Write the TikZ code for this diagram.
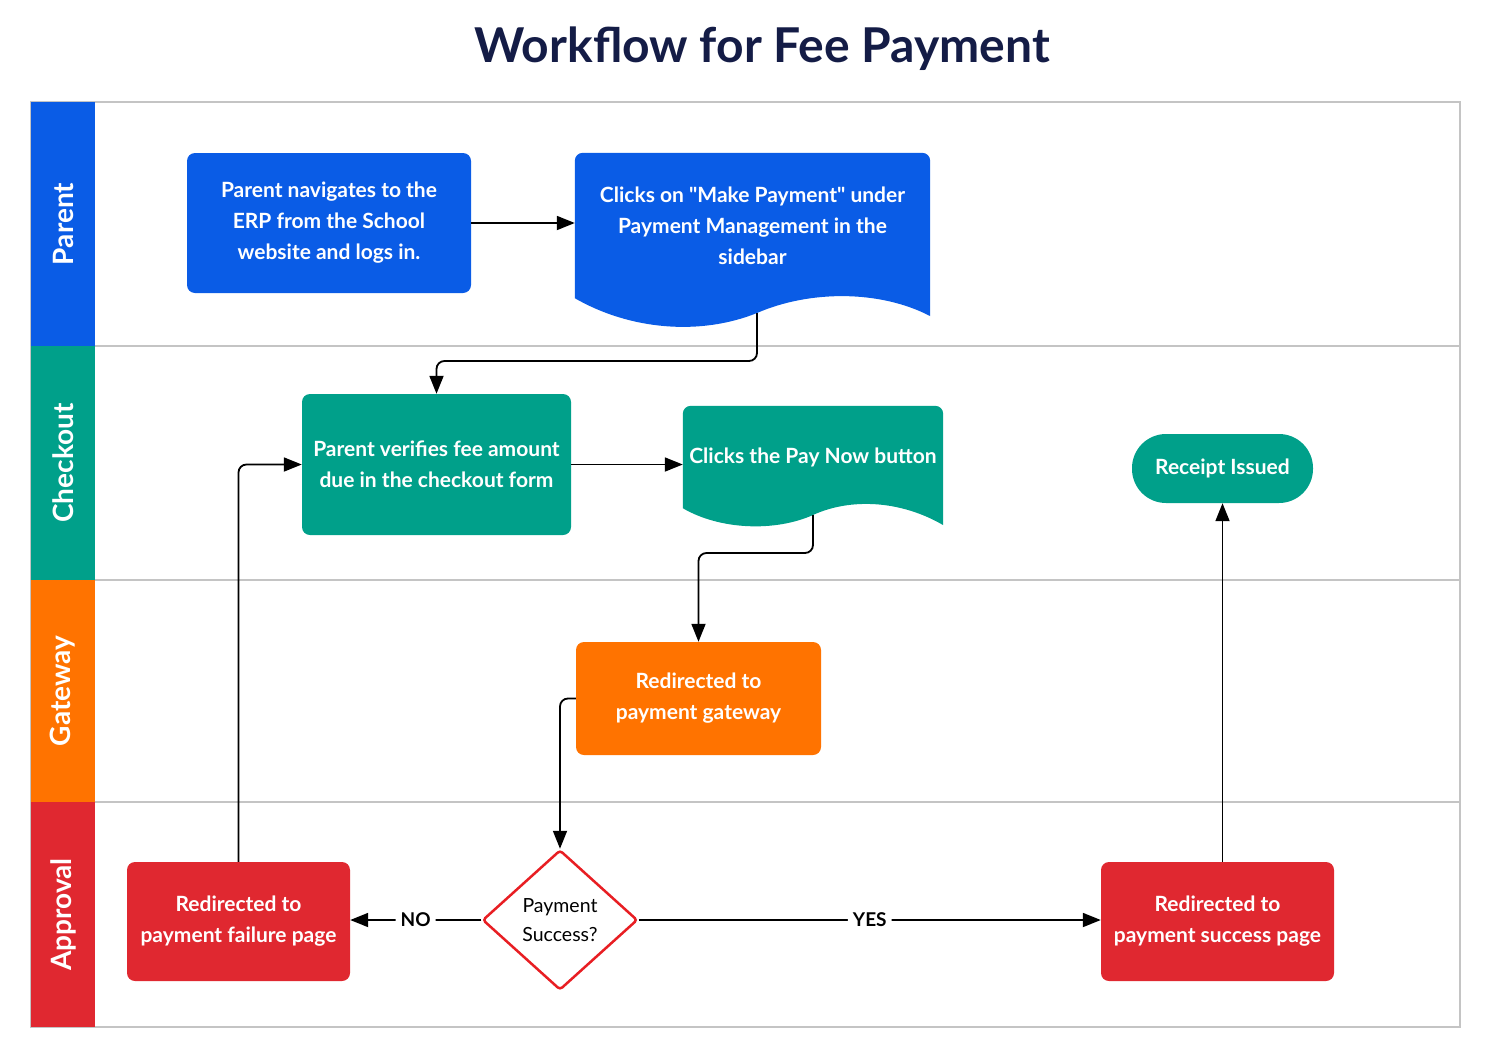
\documentclass[tikz,border=0pt]{standalone}
\usepackage{fontspec}
\setmainfont{Lato}
\usepackage{tikz}
\usetikzlibrary{shapes.geometric,arrows.meta,positioning,calc,backgrounds}
\tikzset{every node/.append style={align=center}}
\definecolor{parentcolor}{RGB}{10, 92, 230}
\definecolor{checkoutcolor}{RGB}{0, 160, 138}
\definecolor{gatewaycolor}{RGB}{255, 115, 0}
\definecolor{approvalcolor}{RGB}{224, 40, 48}
\definecolor{decisionred}{RGB}{232, 30, 35}
\definecolor{titlecolor}{RGB}{20, 28, 70}
\definecolor{lanegray}{RGB}{196, 196, 196}

\begin{document}
\begin{tikzpicture}[
    x=1pt, y=-1pt,
    lanelabel/.style={rotate=90, text=white, font=\fontsize{28}{32}\selectfont\bfseries, minimum height=64pt, inner sep=0pt},
    process/.style={rounded corners=8pt, text=white, font=\fontsize{21}{31}\selectfont\bfseries, inner sep=0pt},
    doctext/.style={text=white, font=\fontsize{21}{31}\selectfont\bfseries, inner sep=0pt},
    decision/.style={diamond, draw=decisionred, line width=2.5pt, fill=white, rounded corners=3pt, minimum width=155pt, minimum height=140pt, aspect=1.1, inner sep=0pt, font=\fontsize{19.5}{29}\selectfont},
    arrow/.style={-{Triangle[length=18pt,width=14pt]}, line width=1.8pt, black, rounded corners=8pt},
    answer/.style={fill=white, font=\fontsize{19}{22}\selectfont\bfseries, inner sep=5pt}
]
    \useasboundingbox (0,0) rectangle (1494,1052);

    % Title
    \node[font=\fontsize{48}{56}\selectfont\bfseries, text=titlecolor] (title) at (762,49) {Workflow for Fee Payment};

    % Lanes
    \draw[lanegray, line width=1.5pt] (31,102) rectangle (1460,1027);
    \draw[lanegray, line width=1.5pt] (31,346) -- (1460,346);
    \draw[lanegray, line width=1.5pt] (31,580) -- (1460,580);
    \draw[lanegray, line width=1.5pt] (31,802) -- (1460,802);
    \node[lanelabel, fill=parentcolor, minimum width=244pt] (lparent) at (63,224) {Parent};
    \node[lanelabel, fill=checkoutcolor, minimum width=234pt] (lcheckout) at (63,463) {Checkout};
    \node[lanelabel, fill=gatewaycolor, minimum width=222pt] (lgateway) at (63,691) {Gateway};
    \node[lanelabel, fill=approvalcolor, minimum width=225pt] (lapproval) at (63,914.5) {Approval};

    % Steps
    \node[process, fill=parentcolor, minimum width=284pt, minimum height=140pt] (login) at (329,223) {Parent navigates to the\\ERP from the School\\website and logs in.};
    \node[doctext, minimum width=355pt, minimum height=145pt] (clicks) at (752.5,225.5) {Clicks on \textquotedbl Make Payment\textquotedbl\ under\\Payment Management in the\\sidebar};
    \node[process, fill=checkoutcolor, minimum width=269pt, minimum height=141pt] (verify) at (436.5,464.5) {Parent verifies fee amount\\due in the checkout form};
    \node[doctext, minimum width=260pt, minimum height=102pt] (paynow) at (813,457) {Clicks the Pay Now button};
    \node[process, fill=checkoutcolor, rounded corners=34pt, minimum width=181pt, minimum height=69pt] (receipt) at (1222.5,468.5) {Receipt Issued};
    \node[process, fill=gatewaycolor, minimum width=245pt, minimum height=113pt] (gateway) at (698.5,698.5) {Redirected to\\payment gateway};
    \node[decision] (check) at (560,920) {Payment\\Success?};
    \node[process, fill=approvalcolor, minimum width=223pt, minimum height=119pt] (failure) at (238.5,921.5) {Redirected to\\payment failure page};
    \node[process, fill=approvalcolor, minimum width=233pt, minimum height=119pt] (success) at (1217.5,921.5) {Redirected to\\payment success page};

    % Document shapes
    \begin{scope}[on background layer]
        \fill[parentcolor] (clicks.south west) [rounded corners=8pt] -- (clicks.north west) -- (clicks.north east) [sharp corners] -- (930,316) .. controls (880,290) and (810,290) .. (757,313) .. controls (700,336) and (630,330) .. (clicks.south west) -- cycle;
        \fill[checkoutcolor] (paynow.south west) [rounded corners=8pt] -- (paynow.north west) -- (paynow.north east) [sharp corners] -- (943,525) .. controls (900,500) and (850,498) .. (813,515) .. controls (775,532) and (720,530) .. (paynow.south west) -- cycle;
    \end{scope}
    \coordinate (clicksout) at (757,313);
    \coordinate (paynowout) at (813,515);

    % Arrows
    \draw[arrow] (login.east) -- (login.east -| clicks.west);
    \draw[arrow] (clicksout) -- ++(0,48) -| (verify.north);
    \draw[arrow] (verify.east) -- (verify.east -| paynow.west);
    \draw[arrow] (paynowout) -- ++(0,38) -| (gateway.north);
    \draw[arrow] (gateway.west) -| (check.north);
    \draw[arrow] (check.west) -- (check.west -| failure.east) node[midway, answer] {NO};
    \draw[arrow] (check.east) -- (check.east -| success.west) node[midway, answer] {YES};
    \draw[arrow] (receipt.south |- success.north) -- (receipt.south);
    \draw[arrow] (failure.north) |- (verify.west);

\end{tikzpicture}
\end{document}
